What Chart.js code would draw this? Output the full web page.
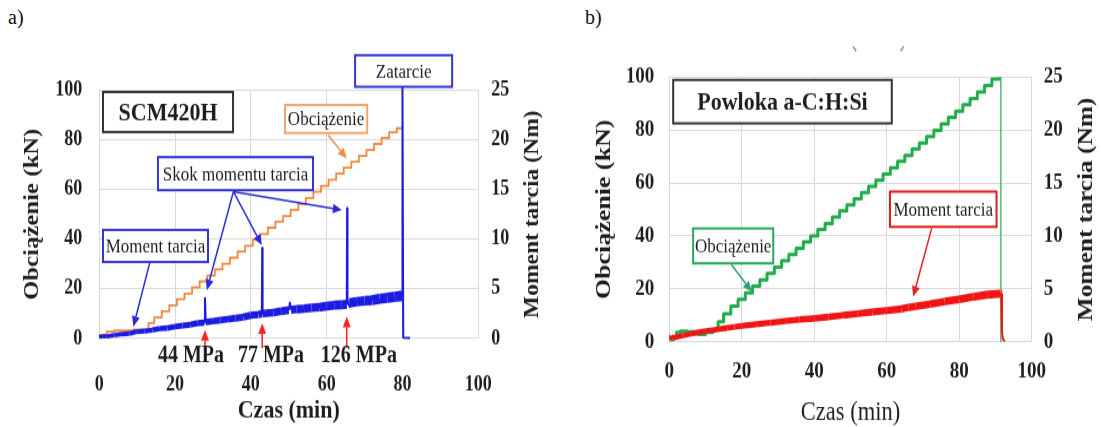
<!DOCTYPE html>
<html>
<head>
<meta charset="utf-8">
<title>Obciążenie i moment tarcia</title>
<script src="https://cdn.jsdelivr.net/npm/chart.js@4.4.1/dist/chart.umd.min.js"></script>
<style>
  body { margin: 0; background: #fff; }
  #page { position: relative; width: 1101px; height: 427px; overflow: hidden; background: #fff; }
  canvas { position: absolute; top: 0; }
  .tag { position: absolute; top: 6px; font: 20px "Liberation Serif", serif; color: #111; }
</style>
</head>
<body>
<div id="page">
  <div class="tag" style="left:8px">a)</div>
  <div class="tag" style="left:585px">b)</div>
  <canvas id="chartA" width="550" height="362" style="left:0;width:550px;height:427px"></canvas>
  <canvas id="chartB" width="551" height="362" style="left:550px;width:551px;height:427px"></canvas>
</div>
<script>
// a) SCM420H - load (kN) and friction torque (Nm) vs time (min)
const timeLoadA = [0, 2, 4, 9, 13, 14.5, 16.5, 18.5, 20.5, 22.5, 24.5, 26.5, 28.5, 30.5, 32.5, 34.5, 36.5, 38.5,
  40.5, 42.5, 44.5, 46.5, 48.5, 50.5, 52.5, 54.5, 56.5, 58.5, 60.5, 62.5, 64.5, 66.5, 68.5, 70.5, 72.5, 74.5,
  76.5, 78.5, 80.2];
const loadA = [0.5, 1.5, 2.8, 3.2, 3.6, 6.2, 8.5, 11.0, 13.3, 15.8, 18.1, 20.6, 23.0, 25.3, 27.8, 30.1, 32.5, 35.0,
  37.3, 39.8, 42.1, 44.6, 47.0, 49.3, 51.8, 54.2, 56.5, 59.0, 61.4, 63.9, 66.4, 68.8, 71.1, 73.5, 75.9, 78.3,
  80.7, 83.0, 84.6];
const timeMomentA = [0, 1, 2, 4, 6, 8, 10, 12, 14, 16, 18, 20, 22, 24, 26, 27.7, 27.9, 28.1, 30, 32, 34, 36, 38,
  40, 42, 42.9, 43.0, 43.1, 44, 46, 48, 50, 50.3, 50.6, 52, 54, 56, 58, 60, 62, 64, 65.3, 65.4, 65.5, 66, 68, 70,
  72, 74, 76, 78, 79.9, 80.0, 80.2, 82];
const momentA = [0.15, 0.25, 0.2, 0.35, 0.45, 0.5, 0.7, 0.75, 0.85, 1.0, 1.05, 1.2, 1.3, 1.4, 1.55, 1.6, 4.05, 1.65,
  1.75, 1.85, 1.95, 2.05, 2.15, 2.35, 2.4, 2.5, 9.1, 2.5, 2.55, 2.6, 2.75, 2.85, 3.6, 2.9, 2.95, 3.0, 3.1, 3.15,
  3.25, 3.35, 3.4, 3.45, 13.1, 3.5, 3.6, 3.7, 3.8, 3.85, 4.0, 4.1, 4.2, 4.3, 25.4, 0.1, 0.05];

// b) Powloka a-C:H:Si
const timeLoadB = [0, 1, 2, 3, 5, 7, 8, 10, 12, 13.5, 15, 17, 19, 21, 23, 25, 27, 29, 31, 33, 35, 37, 39, 41, 43,
  45, 47, 49, 51, 53, 55, 57, 59, 61, 63, 65, 67, 69, 71, 73, 75, 77, 79, 81, 83, 85, 87, 89, 91, 91.5, 91.7];
const loadB = [0.5, 0.8, 1.5, 3.5, 4.0, 3.8, 3.0, 2.8, 3.5, 4.5, 7.5, 10.5, 13.5, 16.0, 18.5, 21.0, 23.4, 25.8,
  28.2, 30.6, 33.0, 35.3, 37.7, 40.0, 42.4, 44.7, 47.1, 49.4, 51.7, 54.0, 56.3, 58.7, 61.0, 63.4, 65.7, 68.1,
  70.4, 72.8, 75.1, 77.5, 79.9, 82.3, 84.7, 87.1, 89.5, 91.9, 94.3, 96.8, 99.2, 100, 0];
const timeMomentB = [0, 0.5, 1, 2, 4, 6, 8, 10, 12, 14, 16, 18, 20, 24, 28, 32, 36, 40, 44, 48, 52, 56, 60, 64, 66,
  68, 72, 76, 80, 84, 88, 91.3, 91.6, 91.8, 92.0, 92.6];
const momentB = [0.3, 0.55, 0.3, 0.45, 0.6, 0.75, 0.9, 1.0, 1.1, 1.2, 1.3, 1.4, 1.5, 1.65, 1.8, 1.95, 2.1, 2.2,
  2.35, 2.5, 2.65, 2.8, 2.95, 3.1, 3.25, 3.35, 3.55, 3.8, 4.0, 4.25, 4.45, 4.55, 4.5, 1.0, 0.3, 0.0];

const timeTicks = [0, 20, 40, 60, 80, 100];
const loadTicks = [0, 20, 40, 60, 80, 100];
const momentTicks = [0, 5, 10, 15, 20, 25];

const SERIF = '"Liberation Serif", "Times New Roman", serif';
const H = 362;          // canvas drawing height, shown stretched to 427px
const SY = 427 / H;

const pts = (xs, ys) => xs.map((t, i) => ({x: t, y: ys[i]}));

// thick noisy band, thin where the line jumps
function bandWidth(c, xEnd, w0, w1) {
  const a = c.p0.parsed, b = c.p1.parsed;
  if (Math.abs(b.y - a.y) > 0.6 || a.x >= xEnd) return 2;
  return w0 + (w1 - w0) * a.x / xEnd;
}

function arrow(ctx, x0, y0, x1, y1, color) {
  const ang = Math.atan2(y1 - y0, x1 - x0), len = 9, half = 4;
  const bx = x1 - len * Math.cos(ang), by = y1 - len * Math.sin(ang);
  ctx.strokeStyle = color;
  ctx.fillStyle = color;
  ctx.lineWidth = 1.5;
  ctx.beginPath();
  ctx.moveTo(x0, y0);
  ctx.lineTo(bx, by);
  ctx.stroke();
  ctx.beginPath();
  ctx.moveTo(x1, y1);
  ctx.lineTo(bx + half * Math.sin(ang), by - half * Math.cos(ang));
  ctx.lineTo(bx - half * Math.sin(ang), by + half * Math.cos(ang));
  ctx.closePath();
  ctx.fill();
}

function notesPlugin(notes) {
  return {
    id: 'notes',
    afterDatasetsDraw(chart) {
      const ctx = chart.ctx, xs = chart.scales.x, ys = chart.scales.y;
      const px = v => xs.getPixelForValue(v), py = v => ys.getPixelForValue(v);
      ctx.save();
      notes.arrows.forEach(a => arrow(ctx, px(a.from[0]), py(a.from[1]), px(a.to[0]), py(a.to[1]), a.color));
      notes.boxes.forEach(b => {
        const l = px(b.x0), r = px(b.x1), t = py(b.y0), bt = py(b.y1);
        ctx.fillStyle = '#fff';
        ctx.fillRect(l, t, r - l, bt - t);
        ctx.lineWidth = 2;
        ctx.strokeStyle = b.color;
        ctx.strokeRect(l, t, r - l, bt - t);
        ctx.fillStyle = '#1e1e1e';
        ctx.font = (b.weight || 'normal') + ' ' + b.size + 'px ' + SERIF;
        ctx.textAlign = 'center';
        ctx.textBaseline = 'middle';
        ctx.fillText(b.text, (l + r) / 2, (t + bt) / 2 + 1);
      });
      (notes.labels || []).forEach(m => {
        ctx.fillStyle = '#1e1e1e';
        ctx.font = 'bold ' + m.size + 'px ' + SERIF;
        ctx.textAlign = 'center';
        ctx.textBaseline = 'middle';
        ctx.fillText(m.text, px(m.x), py(m.y));
      });
      (notes.marks || []).forEach(m => {
        ctx.strokeStyle = '#8a8a8a';
        ctx.lineWidth = 1.6;
        ctx.beginPath();
        ctx.moveTo(px(m.x) - 2 * m.dir, py(m.y) - 3);
        ctx.lineTo(px(m.x) + 1 * m.dir, py(m.y) + 1);
        ctx.stroke();
      });
      // right axis title, reading upwards like the left one
      const st = notes.sideTitle;
      ctx.fillStyle = '#1e1e1e';
      ctx.font = 'bold ' + st.size + 'px ' + SERIF;
      ctx.textAlign = 'center';
      ctx.textBaseline = 'middle';
      ctx.translate(st.x, (chart.chartArea.top + chart.chartArea.bottom) / 2);
      ctx.rotate(-Math.PI / 2);
      ctx.fillText(st.text, 0, 0);
      ctx.restore();
    }
  };
}

function buildChart(id, L, datasets, notes) {
  const tickFont = {family: SERIF, size: L.tickSize, weight: 'bold'};
  const gridColor = '#d9d9d9';
  const xTickPad = L.xTickCenter / SY - 0.6 * L.tickSize - L.plotBottom / SY;
  const xTitlePad = (H - L.xTitleCenter / SY) - L.xTitleSize / 2;
  return new Chart(document.getElementById(id), {
    type: 'line',
    data: {datasets: datasets},
    options: {
      responsive: false,
      animation: false,
      events: [],
      layout: {padding: {top: L.plotTop / SY, left: 0, right: 0, bottom: 0}},
      plugins: {legend: {display: false}, tooltip: {enabled: false}},
      scales: {
        x: {
          type: 'linear', min: 0, max: 100,
          afterBuildTicks: s => { s.ticks = timeTicks.map(v => ({value: v})); },
          afterFit: s => { s.height = H - L.plotBottom / SY; },
          ticks: {padding: xTickPad, color: '#1e1e1e', font: tickFont},
          grid: {color: gridColor, drawTicks: false},
          border: {color: gridColor},
          title: {display: true, text: 'Czas (min)', color: '#1e1e1e',
            font: {family: SERIF, size: L.xTitleSize, weight: L.xTitleWeight, lineHeight: 1},
            padding: {top: 0, bottom: xTitlePad}}
        },
        y: {
          position: 'left', min: 0, max: 100,
          afterBuildTicks: s => { s.ticks = loadTicks.map(v => ({value: v})); },
          afterFit: s => { s.width = L.plotLeft; },
          ticks: {padding: L.yTickPad, color: '#1e1e1e', font: tickFont},
          grid: {color: gridColor, drawTicks: false},
          border: {color: gridColor},
          title: {display: true, text: 'Obciążenie (kN)', color: '#1e1e1e',
            font: {family: SERIF, size: L.yTitleSize, weight: 'bold', lineHeight: 1},
            padding: {top: L.yTitleCenter - L.yTitleSize / 2, bottom: 0}}
        },
        y1: {
          position: 'right', min: 0, max: 25,
          afterBuildTicks: s => { s.ticks = momentTicks.map(v => ({value: v})); },
          afterFit: s => { s.width = L.width - L.plotRight; },
          ticks: {padding: L.y1TickPad, color: '#1e1e1e', font: tickFont},
          grid: {drawOnChartArea: false, drawTicks: false},
          border: {display: false}
        }
      }
    },
    plugins: [notesPlugin(notes)]
  });
}

buildChart('chartA', {
  width: 550, plotLeft: 99.2, plotRight: 478.3, plotTop: 90, plotBottom: 338.5,
  tickSize: 18, xTickCenter: 385, xTitleCenter: 411, xTitleSize: 22, xTitleWeight: 'bold',
  yTitleCenter: 33, yTitleSize: 21, yTickPad: 17, y1TickPad: 13
}, [
  {
    label: 'Moment tarcia', data: pts(timeMomentA, momentA), yAxisID: 'y1',
    borderColor: '#1c1ce0', pointRadius: 0, clip: false, borderJoinStyle: 'round',
    segment: {borderWidth: c => bandWidth(c, 79.95, 3.5, 9)}
  },
  {
    label: 'Obciążenie', data: pts(timeLoadA, loadA), yAxisID: 'y',
    borderColor: '#f0893f', borderWidth: 1.8, stepped: 'after', pointRadius: 0
  }
], {
  boxes: [
    {x0: 1.0, x1: 35.3, y0: 99.2, y1: 83.1, text: 'SCM420H', color: '#333333', size: 22, weight: 'bold'},
    {x0: 49.0, x1: 70.7, y0: 94, y1: 82.7, text: 'Obciążenie', color: '#f2a46a', size: 17},
    {x0: 15.5, x1: 56.4, y0: 73, y1: 59.7, text: 'Skok momentu tarcia', color: '#3535d0', size: 17},
    {x0: 1.0, x1: 28.7, y0: 43.7, y1: 30.8, text: 'Moment tarcia', color: '#3535d0', size: 17},
    {x0: 67.5, x1: 93.1, y0: 114, y1: 101.3, text: 'Zatarcie', color: '#3535d0', size: 17}
  ],
  arrows: [
    {from: [60.4, 81.9], to: [65.3, 72.5], color: '#ec8f4c'},
    {from: [35.4, 59.1], to: [28.4, 19.5], color: '#2b2bd6'},
    {from: [35.4, 59.1], to: [42.9, 37.6], color: '#2b2bd6'},
    {from: [35.4, 59.1], to: [64.0, 51.7], color: '#2b2bd6'},
    {from: [13.4, 30.9], to: [9.0, 4.7], color: '#2b2bd6'},
    {from: [27.9, -3.8], to: [27.9, 3.4], color: '#ff2222'},
    {from: [43.0, -3.8], to: [43.0, 6.1], color: '#ff2222'},
    {from: [65.3, -3.8], to: [65.3, 8.8], color: '#ff2222'}
  ],
  labels: [
    {text: '44 MPa', x: 24.2, y: -7, size: 20},
    {text: '77 MPa', x: 45.3, y: -7, size: 20},
    {text: '126 MPa', x: 68.5, y: -7, size: 20}
  ],
  sideTitle: {text: 'Moment tarcia (Nm)', size: 20, x: 533}
});

buildChart('chartB', {
  width: 551, plotLeft: 119.2, plotRight: 481.7, plotTop: 77, plotBottom: 341.7,
  tickSize: 19, xTickCenter: 371.7, xTitleCenter: 413, xTitleSize: 22.5, xTitleWeight: 'normal',
  yTitleCenter: 54.1, yTitleSize: 22, yTickPad: 15, y1TickPad: 12
}, [
  {
    label: 'Moment tarcia', data: pts(timeMomentB, momentB), yAxisID: 'y1',
    borderColor: '#f01414', pointRadius: 0, borderJoinStyle: 'round',
    segment: {borderWidth: c => bandWidth(c, 91.5, 4.5, 7)}
  },
  {
    label: 'Obciążenie', data: pts(timeLoadB, loadB), yAxisID: 'y',
    borderColor: '#21ad4e', stepped: 'after', pointRadius: 0, borderJoinStyle: 'round',
    segment: {borderWidth: c => (c.p0.parsed.y - c.p1.parsed.y > 20 ? 1.2 : 3)}
  }
], {
  boxes: [
    {x0: 1.1, x1: 61.4, y0: 98.9, y1: 82.5, text: 'Powloka a-C:H:Si', color: '#333333', size: 22, weight: 'bold'},
    {x0: 60.9, x1: 90.3, y0: 56.7, y1: 43.4, text: 'Moment tarcia', color: '#e01b1b', size: 17},
    {x0: 6.6, x1: 28.7, y0: 42.8, y1: 29.6, text: 'Obciążenie', color: '#27a85a', size: 17}
  ],
  arrows: [
    {from: [72.4, 42.8], to: [67.3, 17.0], color: '#e52020'},
    {from: [17.2, 29.0], to: [22.8, 18.9], color: '#2f9f6f'}
  ],
  marks: [
    {x: 51.3, y: 110.2, dir: 1},
    {x: 64.1, y: 110.2, dir: -1}
  ],
  sideTitle: {text: 'Moment tarcia (Nm)', size: 21.5, x: 536}
});
</script>
</body>
</html>
